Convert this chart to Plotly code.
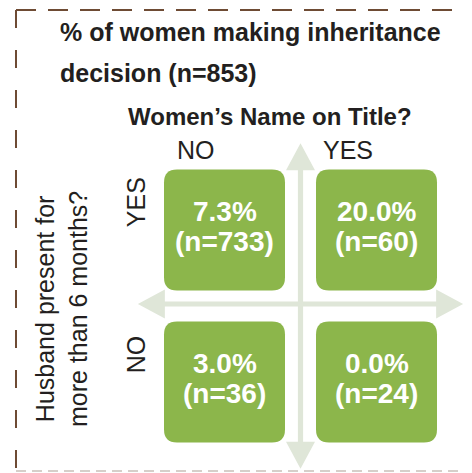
import plotly.graph_objects as go

# ---------------- data ----------------
col_labels = ["NO", "YES"]          # Women's name on title?
row_labels = ["YES", "NO"]          # Husband present > 6 months?
pct_values = [[7.3, 20.0], [3.0, 0.0]]
n_values = [[733, 60], [36, 24]]
title_lines = ["% of women making inheritance", "decision (n=853)"]
col_title = "Women\u2019s Name on Title?"
row_title = "Husband present for<br>more than 6 months?"

# ---------------- style ----------------
OFF = 8                            # default page body margin
W, H = 472 - OFF, 473 - OFF
BOX = "#8cb64b"
ARROW = "#dfe6d8"
BROWN = "#6e4b34"
INK = "#231f20"
FONT = "Liberation Sans, Arial, sans-serif"

def px(x):   # window px -> paper x
    return (x - OFF) / W

def py(y):   # window px -> paper y
    return 1 - (y - OFF) / H

unit = 152.0                      # pixels per grid step
x0_px, y0_px = 224.5 - OFF, 230.0 - OFF
xr = [(0 - x0_px) / unit, (W - x0_px) / unit]
yr = [(H - y0_px) / unit, (0 - y0_px) / unit]

half = 60.5 / unit
rad = 13 / unit

fig = go.Figure()
shapes = []
annotations = []

# ---------------- axes arrows ----------------
mid_x = (len(col_labels) - 1) / 2
mid_y = (len(row_labels) - 1) / 2
alen = 1.07
head_l = 27 / unit
head_w = 14.5 / unit
shaft = 2.6 / unit

def arrow_path_v(cx, y_a, y_b):
    return (f"M {cx-shaft},{y_a+head_l} L {cx-head_w},{y_a+head_l} L {cx},{y_a} "
            f"L {cx+head_w},{y_a+head_l} L {cx+shaft},{y_a+head_l} "
            f"L {cx+shaft},{y_b-head_l} L {cx+head_w},{y_b-head_l} L {cx},{y_b} "
            f"L {cx-head_w},{y_b-head_l} L {cx-shaft},{y_b-head_l} Z")

def arrow_path_h(cy, x_a, x_b):
    return (f"M {x_a+head_l},{cy-shaft} L {x_a+head_l},{cy-head_w} L {x_a},{cy} "
            f"L {x_a+head_l},{cy+head_w} L {x_a+head_l},{cy+shaft} "
            f"L {x_b-head_l},{cy+shaft} L {x_b-head_l},{cy+head_w} L {x_b},{cy} "
            f"L {x_b-head_l},{cy-head_w} L {x_b-head_l},{cy-shaft} Z")

shapes.append(dict(type="path", xref="x", yref="y", path=arrow_path_v(mid_x, mid_y - alen, mid_y + alen),
                   fillcolor=ARROW, line=dict(width=0), layer="below"))
shapes.append(dict(type="path", xref="x", yref="y", path=arrow_path_h(mid_y - 0.013, mid_x - alen, mid_x + alen),
                   fillcolor=ARROW, line=dict(width=0), layer="below"))

# ---------------- cells ----------------
def rrect(cx, cy):
    l, r, t, b = cx - half, cx + half, cy - half, cy + half
    return (f"M {l+rad},{t} L {r-rad},{t} Q {r},{t} {r},{t+rad} "
            f"L {r},{b-rad} Q {r},{b} {r-rad},{b} L {l+rad},{b} "
            f"Q {l},{b} {l},{b-rad} L {l},{t+rad} Q {l},{t} {l+rad},{t} Z")

for j, rl in enumerate(row_labels):
    for i, cl in enumerate(col_labels):
        shapes.append(dict(type="path", xref="x", yref="y", path=rrect(i, j),
                           fillcolor=BOX, line=dict(width=0), layer="above"))
        annotations.append(dict(x=i, y=j - 19 / unit, xref="x", yref="y",
                                xanchor="center", yanchor="middle",
                                text=f"<b>{pct_values[j][i]:.1f}%</b>", showarrow=False,
                                font=dict(family=FONT, size=28, color="white")))
        annotations.append(dict(x=i, y=j + 11.5 / unit, xref="x", yref="y",
                                xanchor="center", yanchor="middle",
                                text=f"<b>(n={n_values[j][i]})</b>", showarrow=False,
                                font=dict(family=FONT, size=28, color="white")))

# invisible trace so axes are set up from the data
fig.add_trace(go.Scatter(x=[0, 1, 0, 1], y=[0, 0, 1, 1], mode="markers",
                         marker=dict(opacity=0), hoverinfo="skip", showlegend=False))

# column / row headers
for i, cl in enumerate(col_labels):
    annotations.append(dict(x=i - 0.19, y=-0.526, xref="x", yref="y", text=cl, showarrow=False,
                            xanchor="center", yanchor="middle",
                            font=dict(family=FONT, size=25, color=INK)))
for j, rl in enumerate(row_labels):
    annotations.append(dict(x=-0.585, y=j - 0.18, xref="x", yref="y", text=rl, showarrow=False,
                            xanchor="center", yanchor="middle",
                            textangle=-90, font=dict(family=FONT, size=25, color=INK)))

# titles
annotations.append(dict(x=px(58), y=py(32), xref="paper", yref="paper", xanchor="left", yanchor="middle",
                        text=f"<b>{title_lines[0]}</b>", showarrow=False,
                        font=dict(family=FONT, size=25, color=INK)))
annotations.append(dict(x=px(58), y=py(73), xref="paper", yref="paper", xanchor="left", yanchor="middle",
                        text=f"<b>{title_lines[1]}</b>", showarrow=False,
                        font=dict(family=FONT, size=25, color=INK)))
annotations.append(dict(x=px(270), y=py(116), xref="paper", yref="paper", xanchor="center", yanchor="middle",
                        text=f"<b>{col_title}</b>", showarrow=False,
                        font=dict(family=FONT, size=24, color=INK)))
annotations.append(dict(x=px(61), y=py(309), xref="paper", yref="paper", xanchor="center", yanchor="middle",
                        text=row_title, showarrow=False, textangle=-90,
                        font=dict(family=FONT, size=25, color=INK)))

# dashed frame
fx, fy = 16, 10
shapes.append(dict(type="line", xref="paper", yref="paper", x0=px(fx), y0=py(fy), x1=1.0, y1=py(fy),
                   line=dict(color=BROWN, width=2, dash="20px,12px")))
shapes.append(dict(type="line", xref="paper", yref="paper", x0=px(fx), y0=py(fy), x1=px(fx), y1=0,
                   line=dict(color=BROWN, width=2, dash="18px,22px")))
shapes.append(dict(type="line", xref="paper", yref="paper", x0=px(fx), y0=py(471), x1=1.0, y1=py(471),
                   line=dict(color="#d6cfca", width=2, dash="10px,6px")))

fig.update_layout(
    width=W, height=H, margin=dict(l=0, r=0, t=0, b=0),
    paper_bgcolor="white", plot_bgcolor="white",
    xaxis=dict(range=xr, visible=False, fixedrange=True),
    yaxis=dict(range=yr, visible=False, fixedrange=True),
    shapes=shapes, annotations=annotations, showlegend=False,
)

fig.write_html("out.html")
